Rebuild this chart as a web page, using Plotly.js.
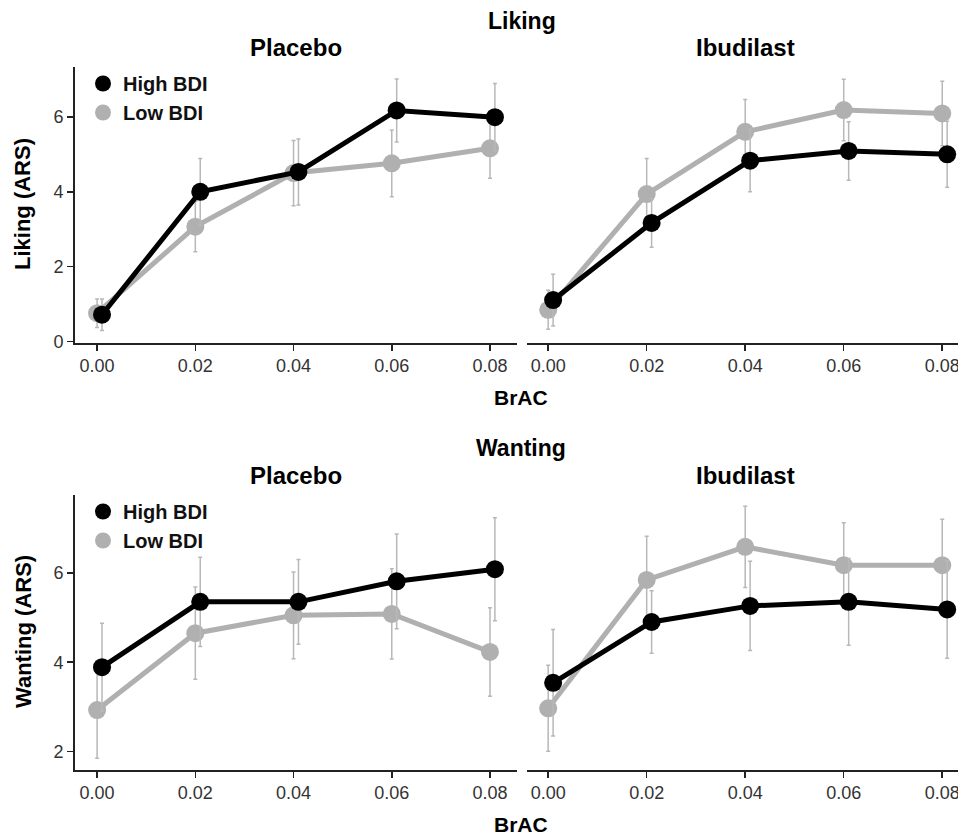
<!DOCTYPE html>
<html>
<head>
<meta charset="utf-8">
<script src="https://cdn.plot.ly/plotly-3.0.1.min.js"></script>
<style>html,body{margin:0;padding:0;background:#fff;}#chart{width:958px;height:838px;}</style>
</head>
<body>
<div id="chart"></div>
<script>
// BrAC levels
const brac = [0.00, 0.02, 0.04, 0.06, 0.08];
const xTickLabels = ["0.00", "0.02", "0.04", "0.06", "0.08"];
const seriesNames = ["High BDI", "Low BDI"];

// Liking (ARS) - Placebo
const likingPlaceboHigh = [0.72, 4.00, 4.53, 6.17, 5.99];
const likingPlaceboHighErr = [0.42, 0.89, 0.88, 0.84, 0.90];
const likingPlaceboLow = [0.76, 3.07, 4.50, 4.76, 5.16];
const likingPlaceboLowErr = [0.38, 0.67, 0.87, 0.89, 0.80];

// Liking (ARS) - Ibudilast
const likingIbudilastHigh = [1.11, 3.17, 4.83, 5.09, 5.00];
const likingIbudilastHighErr = [0.69, 0.65, 0.83, 0.78, 0.88];
const likingIbudilastLow = [0.85, 3.94, 5.60, 6.18, 6.09];
const likingIbudilastLowErr = [0.52, 0.95, 0.86, 0.82, 0.86];

// Wanting (ARS) - Placebo
const wantingPlaceboHigh = [3.89, 5.35, 5.35, 5.81, 6.08];
const wantingPlaceboHighErr = [0.98, 1.00, 0.95, 1.06, 1.15];
const wantingPlaceboLow = [2.93, 4.65, 5.05, 5.08, 4.23];
const wantingPlaceboLowErr = [1.08, 1.03, 0.97, 1.01, 0.99];

// Wanting (ARS) - Ibudilast
const wantingIbudilastHigh = [3.54, 4.90, 5.26, 5.35, 5.18];
const wantingIbudilastHighErr = [1.19, 0.70, 1.00, 0.97, 1.09];
const wantingIbudilastLow = [2.97, 5.84, 6.58, 6.17, 6.17];
const wantingIbudilastLowErr = [0.96, 0.98, 0.91, 0.95, 1.03];

const FONT = '"Liberation Sans", Arial, Helvetica, sans-serif';
const HIGH_COLOR = '#000000';
const LOW_COLOR = '#b0b0b0';
const ERR_COLOR = '#b8b8b8';
const DODGE = 0.001;

function series(y, err, high, xa, ya) {
  return {
    x: brac.map(v => high ? v + DODGE : v),
    y: y,
    xaxis: xa, yaxis: ya,
    type: 'scatter', mode: 'lines+markers',
    showlegend: false,
    hoverinfo: 'skip',
    line: {color: high ? HIGH_COLOR : LOW_COLOR, width: 5},
    marker: {color: high ? HIGH_COLOR : LOW_COLOR, size: 18},
    error_y: {type: 'data', array: err, visible: true, color: ERR_COLOR, thickness: 1.5, width: 2}
  };
}
function legendItem(name, high, legend) {
  return {
    x: [null], y: [null], type: 'scatter', mode: 'markers', name: name,
    legend: legend, showlegend: true, xaxis: 'x', yaxis: 'y',
    marker: {color: high ? HIGH_COLOR : LOW_COLOR, size: 20}
  };
}

const data = [
  series(likingPlaceboLow, likingPlaceboLowErr, false, 'x', 'y'),
  series(likingPlaceboHigh, likingPlaceboHighErr, true, 'x', 'y'),
  series(likingIbudilastLow, likingIbudilastLowErr, false, 'x2', 'y2'),
  series(likingIbudilastHigh, likingIbudilastHighErr, true, 'x2', 'y2'),
  series(wantingPlaceboLow, wantingPlaceboLowErr, false, 'x3', 'y3'),
  series(wantingPlaceboHigh, wantingPlaceboHighErr, true, 'x3', 'y3'),
  series(wantingIbudilastLow, wantingIbudilastLowErr, false, 'x4', 'y4'),
  series(wantingIbudilastHigh, wantingIbudilastHighErr, true, 'x4', 'y4'),
  legendItem(seriesNames[0], true, 'legend'),
  legendItem(seriesNames[1], false, 'legend'),
  legendItem(seriesNames[0], true, 'legend2'),
  legendItem(seriesNames[1], false, 'legend2')
];

const W = 958, H = 838;
const px = v => v / W;
const py = v => 1 - v / H;

function xAxis(domain, range, anchor) {
  return {
    domain: domain, range: range, anchor: anchor,
    tickvals: brac, ticktext: xTickLabels,
    showline: true, linecolor: '#222', linewidth: 1.8,
    ticks: 'outside', ticklen: 6, tickwidth: 1.5, tickcolor: '#222',
    showgrid: false, zeroline: false,
    ticklabeloverflow: 'allow',
    tickfont: {family: FONT, size: 18, color: '#333'}
  };
}
function yAxis(domain, range, anchor, tickvals, show) {
  return {
    domain: domain, range: range, anchor: anchor,
    tickvals: tickvals,
    showline: show, linecolor: '#222', linewidth: 1.8,
    ticks: show ? 'outside' : '', ticklen: 6, tickwidth: 1.5, tickcolor: '#222',
    showticklabels: show,
    showgrid: false, zeroline: false,
    tickfont: {family: FONT, size: 18, color: '#333'}
  };
}

const topDom = [py(343), py(67)];
const botDom = [py(770), py(495)];
const leftDom = [px(75), px(517)];
const rightDom = [px(527), 1];
const likingRange = [-0.035, 7.33];
const wantingRange = [1.59, 7.74];
const leftXRange = [-0.0045, 0.0855];
const rightXRange = [-0.0043, 0.0832];

function ann(text, x, y, size, angle) {
  return {text: text, x: x, y: y, xref: 'paper', yref: 'paper', showarrow: false,
    xanchor: 'center', yanchor: 'middle', textangle: angle || 0,
    font: {family: FONT, size: size, color: '#000', weight: 'bold'}};
}

const legendStyle = {
  font: {family: FONT, size: 20, color: '#111', weight: 'bold'},
  bgcolor: 'rgba(0,0,0,0)', borderwidth: 0, xanchor: 'left', yanchor: 'top',
  tracegroupgap: 0, itemsizing: 'trace'
};

const layout = {
  width: W, height: H,
  margin: {l: 0, r: 0, t: 0, b: 0},
  paper_bgcolor: '#fff', plot_bgcolor: '#fff',
  font: {family: FONT},
  xaxis: xAxis(leftDom, leftXRange, 'y'),
  yaxis: yAxis(topDom, likingRange, 'x', [0, 2, 4, 6], true),
  xaxis2: xAxis(rightDom, rightXRange, 'y2'),
  yaxis2: yAxis(topDom, likingRange, 'x2', [0, 2, 4, 6], false),
  xaxis3: xAxis(leftDom, leftXRange, 'y3'),
  yaxis3: yAxis(botDom, wantingRange, 'x3', [2, 4, 6], true),
  xaxis4: xAxis(rightDom, rightXRange, 'y4'),
  yaxis4: yAxis(botDom, wantingRange, 'x4', [2, 4, 6], false),
  legend: Object.assign({x: px(83), y: py(64)}, legendStyle),
  legend2: Object.assign({x: px(83), y: py(492)}, legendStyle),
  annotations: [
    ann('Liking', px(522), py(21), 23),
    ann('Placebo', px(296), py(47.5), 24),
    ann('Ibudilast', px(745), py(47.5), 24),
    ann('BrAC', px(521), py(397), 21),
    ann('Liking (ARS)', px(23), py(204), 22, -90),
    ann('Wanting', px(521), py(447.5), 23),
    ann('Placebo', px(296), py(475), 24),
    ann('Ibudilast', px(745), py(475), 24),
    ann('BrAC', px(521), py(824), 21),
    ann('Wanting (ARS)', px(23), py(632), 22, -90)
  ]
};

Plotly.newPlot('chart', data, layout, {staticPlot: true, displayModeBar: false});
</script>
</body>
</html>
